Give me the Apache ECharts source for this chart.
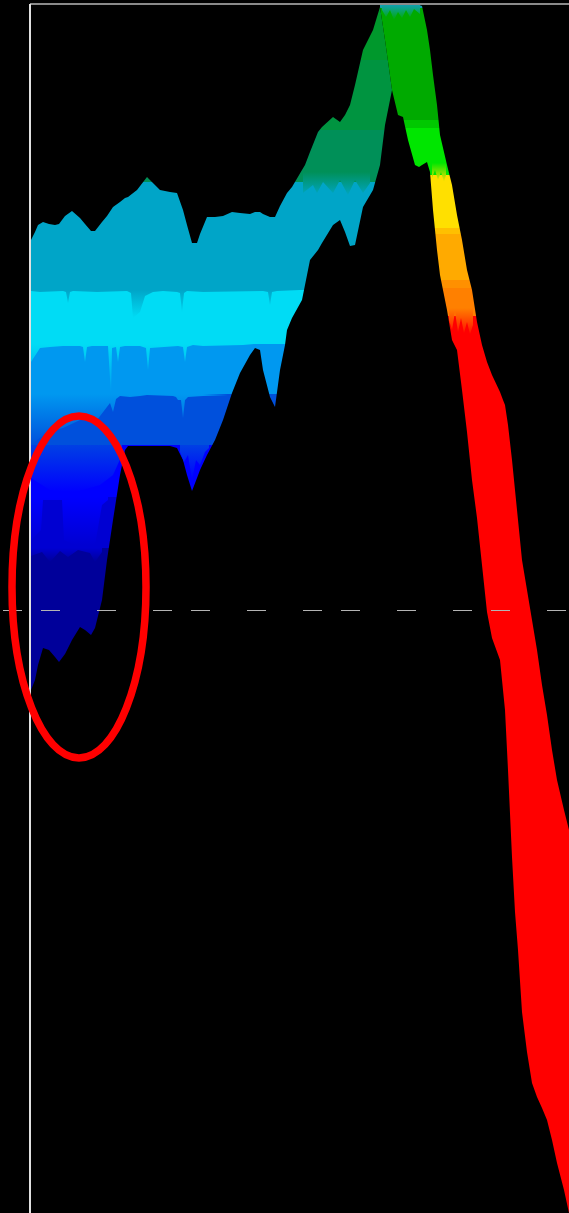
<!DOCTYPE html>
<html><head><meta charset="utf-8">
<style>html,body{margin:0;padding:0;background:#000}#c{width:569px;height:1213px}</style>
<script src="https://cdn.jsdelivr.net/npm/echarts@6/dist/echarts.min.js"></script>
</head><body><div id="c"></div>
<script>
// cool ribbon (left part)
const coolX = [31,35,38,43,49,55,59,65,72,80,85,91,95,102,107,113,120,125,128,137,147,160,170,177,183,187,192,197,200,207,215,223,232,240,250,255,260,263,270,275,280,285,287,292,302,305,310,318,322,333,340,345,350,355,363,373,380,385,392];
const coolTop = [240,232,225,222,224,225,224,216,211,218,224,231,231,222,216,207,202,198,197,190,177,190,192,193,210,225,243,243,234,217,217,216,212,213,214,212,212,214,217,217,206,195,193,187,170,165,152,132,127,117,122,115,105,85,50,30,7,40,90];
const coolBottom = [690,680,665,648,650,657,662,654,640,627,630,635,628,600,560,520,475,450,446,446,446,446,446,448,460,475,491,478,470,455,440,420,393,373,355,348,350,370,397,407,370,345,330,318,300,285,260,250,243,225,220,232,246,245,207,190,165,125,90];
// warm ribbon (right part)
const warmX = [380,385,392,398,403,408,415,419,422,427,430,433,437,440,447,452,457,462,467,472,477,482,487,492,500,503,505,508,512,515,518,522,527,532,537,542,547,552,557,564,569];
const warmTop = [5,5,5,5,5,5,5,5,6,30,50,75,105,135,165,185,215,240,270,290,322,345,362,375,392,400,405,425,460,490,520,560,590,620,650,685,715,750,780,810,830];
const warmBottom = [7,40,90,115,117,140,165,167,165,162,172,210,250,275,310,340,350,390,432,480,518,565,612,638,660,690,710,770,857,912,950,1012,1052,1083,1097,1108,1120,1140,1163,1190,1213];
// colour bands by level
const coolBreaks = [60,130,182,290,344,394,445,497,548];
const coolColors = ['#00982c','#009440','#009058','#00a5c8','#00dcf5','#0098f0','#0050dc','#0000ff','#0000d2','#00009a'];
const warmBreaks = [8,120,128,175,228,234,280,288,316];
const warmColors = ['#10a0b0','#00aa00','#00c800','#00e600','#ffe000','#ffc000','#ffaa00','#ff9000','#ff8000','#ff0000'];
// streaks where one colour band runs down into the next
const streakTealX = [31,40,63,66,68,70,73,97,127,131,133,140,145,153,163,177,180,182,184,187,203,263,268,270,272,277,300];
const streakTealEnd = [291,292,291,292,303,292,291,292,291,293,318,312,296,292,291,292,293,312,293,291,292,291,292,305,292,291,291];
const streakCyanX = [31,40,50,63,80,83,85,87,92,108,110,111,112,113,116,118,120,125,140,146,148,150,152,178,183,185,187,193,203,243,254];
const streakCyanEnd = [362,348,347,346,346,347,362,347,346,346,347,395,348,347,347,362,347,346,346,348,370,348,346,346,347,362,347,345,346,345,345];
const streakSkyX = [31,47,63,80,97,110,113,116,120,130,140,147,173,176,178,181,183,185,188,203,228];
const streakSkyEnd = [445,432,428,420,420,403,412,399,396,397,396,395,396,397,400,400,418,400,397,396,395];
const streakRoyalX = [31,50,75,100,113,122];
const streakRoyalEnd = [478,490,492,485,475,455];
const streakRoyal2X = [180,184,188,192,196,200,205,209];
const streakRoyal2End = [452,462,455,480,460,465,452,448];
const streakBlueX = [31,41,43,62,64,75,95,102,108];
const streakBlueEnd = [540,530,500,500,540,545,545,505,500];
const streakDeepX = [31,42,50,60,68,78,90,95,102];
const streakDeepEnd = [556,552,562,551,557,550,553,562,552];
const streakGreenX = [303,313,317,323,333,340,348,355,363,370];
const streakGreenEnd = [193,185,193,182,193,180,195,180,193,183];
const streakTipX = [382,386,390,394,398,402,406,410,414,420];
const streakTipEnd = [10,17,10,20,12,18,10,17,9,14];
const streakLimeX = [432,435,438,441,444,446];
const streakLimeEnd = [178,170,180,172,182,175];
const streakOrangeX = [449,452,455,458,461,464,467,470,473];
const streakOrangeEnd = [320,330,312,332,318,333,322,334,325];
const dashLevel = 610, topLevel = 4, axisX = 30;

function pieces(breaks, colors){
  return colors.map((c,i)=>{
    const p={color:c};
    if(i>0)p.gt=breaks[i-1];
    if(i<breaks.length)p.lte=breaks[i];
    return p;
  });
}
function ribbon(name,xs,top,bottom){
  return [
    {name:name+'-base',type:'line',stack:name,symbol:'none',silent:true,
     lineStyle:{width:0,opacity:0},data:xs.map((x,i)=>[x,top[i]])},
    {name:name,type:'line',stack:name,symbol:'none',silent:true,clip:true,
     lineStyle:{width:0,opacity:0},areaStyle:{opacity:1},data:xs.map((x,i)=>[x,bottom[i]-top[i]])}
  ];
}
function streak(name,xs,start,ends,from,to){
  const s=ribbon(name,xs,xs.map(()=>start),ends);
  s[1].areaStyle={opacity:1,color:new echarts.graphic.LinearGradient(0,0,0,1,[{offset:0,color:from},{offset:1,color:to}])};
  return s;
}
const chart=echarts.init(document.getElementById('c'),null,{renderer:'canvas'});
chart.setOption({
  backgroundColor:'#000',animation:false,
  grid:{left:0,right:0,top:0,bottom:0},
  xAxis:{type:'time',min:0,max:569,show:false},
  yAxis:{type:'value',min:0,max:1213,inverse:true,show:false},
  visualMap:[
    {show:false,type:'piecewise',seriesIndex:1,dimension:1,pieces:pieces(coolBreaks,coolColors)},
    {show:false,type:'piecewise',seriesIndex:3,dimension:1,pieces:pieces(warmBreaks,warmColors)}
  ],
  series:[
    ...ribbon('cool',coolX,coolTop,coolBottom),
    ...ribbon('warm',warmX,warmTop,warmBottom),
    ...streak('s1',streakTealX,290,streakTealEnd,'#00a5c8','#00dcf5'),
    ...streak('s2',streakCyanX,344,streakCyanEnd,'#00dcf5','#0098f0'),
    ...streak('s3',streakSkyX,394,streakSkyEnd,'#0098f0','#0050dc'),
    ...streak('s4',streakRoyalX,445,streakRoyalEnd,'#0040e4','#0000ff'),
    ...streak('s5',streakRoyal2X,445,streakRoyal2End,'#0040e4','#0000ff'),
    ...streak('s6',streakBlueX,497,streakBlueEnd,'#0000ff','#0000d2'),
    ...streak('s7',streakDeepX,548,streakDeepEnd,'#0000d2','#00009a'),
    ...streak('s8',streakGreenX,172,streakGreenEnd,'#009058','#00a5c0'),
    ...streak('s9',streakTipX,5,streakTipEnd,'#10a0b0','#00aa00'),
    ...streak('s10',streakLimeX,163,streakLimeEnd,'#00e600','#ffe000'),
    ...streak('s11',streakOrangeX,308,streakOrangeEnd,'#ff8000','#ff1000'),
    {name:'guides',type:'line',data:[],silent:true,z:5,
     markLine:{silent:true,symbol:'none',animation:false,label:{show:false},data:[
       [{coord:[axisX,topLevel],lineStyle:{color:'#8a8a8a',width:2,type:'solid'}},{coord:[569,topLevel]}],
       [{coord:[axisX,topLevel],lineStyle:{color:'#e0e0e0',width:2,type:'solid'}},{coord:[axisX,1213]}],
       [{coord:[3,dashLevel],lineStyle:{color:'#b4b4b4',width:1,type:[19,19,19,37,19,37]}},{coord:[569,dashLevel]}]
     ]}}
  ],
  graphic:[{type:'ellipse',z:100,silent:true,shape:{cx:79,cy:587,rx:67,ry:171},
    style:{fill:'transparent',stroke:'#ff0000',lineWidth:7.5}}]
});
</script></body></html>
